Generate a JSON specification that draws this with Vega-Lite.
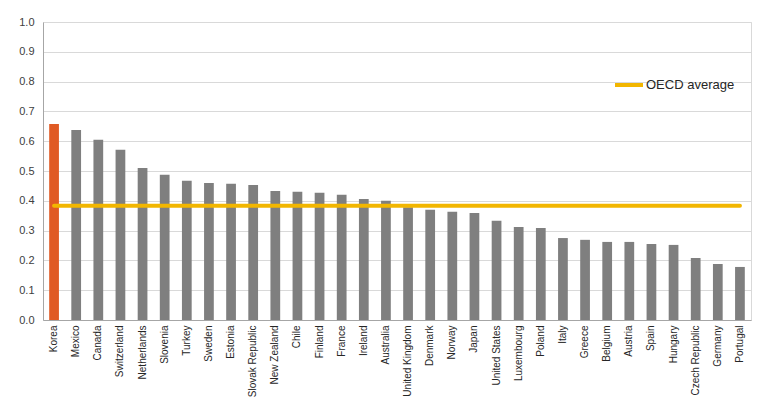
{
  "$schema": "https://vega.github.io/schema/vega-lite/v6.json",
  "width": 708,
  "height": 298,
  "autosize": "none",
  "padding": {"left": 43, "top": 22, "right": 27, "bottom": 87},
  "background": "white",
  "config": {"view": {"stroke": "#D9D9D9", "strokeWidth": 1}},
  "data": {"values": [
    {"Country": "Korea", "Value": 0.658, "OECD": 0.383},
    {"Country": "Mexico", "Value": 0.638, "OECD": 0.383},
    {"Country": "Canada", "Value": 0.605, "OECD": 0.383},
    {"Country": "Switzerland", "Value": 0.571, "OECD": 0.383},
    {"Country": "Netherlands", "Value": 0.510, "OECD": 0.383},
    {"Country": "Slovenia", "Value": 0.487, "OECD": 0.383},
    {"Country": "Turkey", "Value": 0.467, "OECD": 0.383},
    {"Country": "Sweden", "Value": 0.460, "OECD": 0.383},
    {"Country": "Estonia", "Value": 0.457, "OECD": 0.383},
    {"Country": "Slovak Republic", "Value": 0.453, "OECD": 0.383},
    {"Country": "New Zealand", "Value": 0.433, "OECD": 0.383},
    {"Country": "Chile", "Value": 0.430, "OECD": 0.383},
    {"Country": "Finland", "Value": 0.427, "OECD": 0.383},
    {"Country": "France", "Value": 0.420, "OECD": 0.383},
    {"Country": "Ireland", "Value": 0.406, "OECD": 0.383},
    {"Country": "Australia", "Value": 0.400, "OECD": 0.383},
    {"Country": "United Kingdom", "Value": 0.378, "OECD": 0.383},
    {"Country": "Denmark", "Value": 0.370, "OECD": 0.383},
    {"Country": "Norway", "Value": 0.363, "OECD": 0.383},
    {"Country": "Japan", "Value": 0.359, "OECD": 0.383},
    {"Country": "United States", "Value": 0.333, "OECD": 0.383},
    {"Country": "Luxembourg", "Value": 0.312, "OECD": 0.383},
    {"Country": "Poland", "Value": 0.309, "OECD": 0.383},
    {"Country": "Italy", "Value": 0.275, "OECD": 0.383},
    {"Country": "Greece", "Value": 0.269, "OECD": 0.383},
    {"Country": "Belgium", "Value": 0.262, "OECD": 0.383},
    {"Country": "Austria", "Value": 0.262, "OECD": 0.383},
    {"Country": "Spain", "Value": 0.255, "OECD": 0.383},
    {"Country": "Hungary", "Value": 0.252, "OECD": 0.383},
    {"Country": "Czech Republic", "Value": 0.208, "OECD": 0.383},
    {"Country": "Germany", "Value": 0.188, "OECD": 0.383},
    {"Country": "Portugal", "Value": 0.178, "OECD": 0.383}
  ]},
  "encoding": {
    "x": {
      "field": "Country", "type": "nominal", "sort": null,
      "scale": {"paddingInner": 0.56, "paddingOuter": 0.28},
      "axis": {
        "title": null, "labelAngle": -90, "labelAlign": "right", "labelBaseline": "middle",
        "labelFont": "Liberation Sans", "labelFontSize": 10, "labelColor": "#262626",
        "labelPadding": 5, "ticks": false, "domainColor": "#A6A6A6", "grid": false
      }
    }
  },
  "layer": [
    {
      "mark": {"type": "bar"},
      "encoding": {
        "y": {
          "field": "Value", "type": "quantitative",
          "scale": {"domain": [0, 1], "nice": false},
          "axis": {
            "title": null, "format": ".1f", "values": [0, 0.1, 0.2, 0.3, 0.4, 0.5, 0.6, 0.7, 0.8, 0.9, 1.0],
            "labelOverlap": false,
            "labelFont": "Liberation Sans", "labelFontSize": 11, "labelColor": "#404040",
            "labelPadding": 9, "ticks": false, "domainColor": "#A6A6A6",
            "gridColor": "#D9D9D9", "gridWidth": 1
          }
        },
        "color": {
          "condition": {"test": "datum.Country === 'Korea'", "value": "#E05A24"},
          "value": "#7F7F7F"
        }
      }
    },
    {
      "mark": {"type": "line", "strokeWidth": 4, "strokeCap": "round"},
      "encoding": {
        "y": {
          "field": "OECD", "type": "quantitative",
          "scale": {"domain": [0, 1], "nice": false},
          "axis": {
            "title": null, "format": ".1f", "values": [0, 0.1, 0.2, 0.3, 0.4, 0.5, 0.6, 0.7, 0.8, 0.9, 1.0],
            "labelOverlap": false,
            "labelFont": "Liberation Sans", "labelFontSize": 11, "labelColor": "#404040",
            "labelPadding": 9, "ticks": false, "domainColor": "#A6A6A6",
            "gridColor": "#D9D9D9", "gridWidth": 1
          }
        },
        "color": {
          "datum": "OECD average",
          "scale": {"range": ["#F2B600"]},
          "legend": {
            "title": null, "orient": "none", "legendX": 570, "legendY": 47,
            "symbolType": "stroke", "symbolSize": 784, "symbolStrokeWidth": 4,
            "labelFont": "Liberation Sans", "labelFontSize": 13, "labelColor": "#262626",
            "labelOffset": 1
          }
        }
      }
    }
  ]
}
